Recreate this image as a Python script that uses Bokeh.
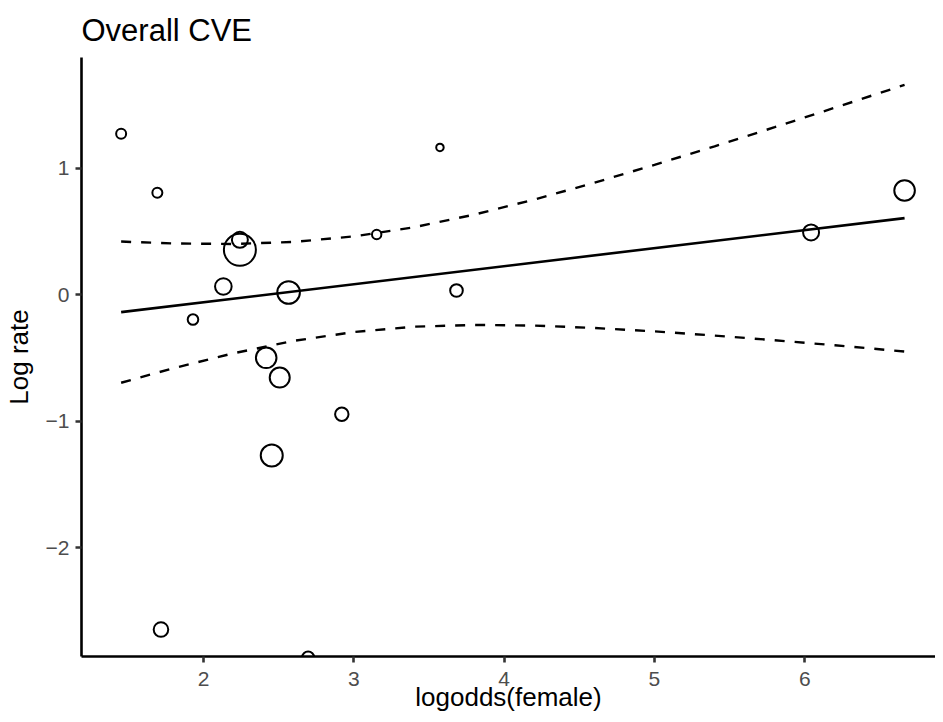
from bokeh.plotting import figure
from bokeh.models import ColumnDataSource, FixedTicker, Range1d
from bokeh.embed import file_html
from bokeh.resources import INLINE
import numpy as np

# ---- data ----
logodds_female = [1.452, 1.693, 1.930, 2.132, 2.242, 2.242, 2.566, 2.417, 2.507,
                  2.454, 2.920, 1.717, 2.696, 3.152, 3.573, 3.683, 6.042, 6.664]
log_rate = [1.272, 0.806, -0.196, 0.065, 0.434, 0.355, 0.017, -0.499, -0.655,
            -1.271, -0.945, -2.647, -2.868, 0.476, 1.164, 0.033, 0.492, 0.824]
weight = [25, 25, 28, 69, 64, 256, 128, 106, 100,
          121, 45, 53, 36, 22, 14, 40, 64, 106]

fit_x = [1.452, 6.664]
fit_y = [-0.138, 0.605]

ci_x = [1.452, 1.8, 2.2, 2.6, 3.0, 3.4, 3.8, 4.2, 4.6, 5.0, 5.4, 5.8, 6.2, 6.664]
ci_upper = [0.420, 0.405, 0.401, 0.417, 0.461, 0.533, 0.633, 0.752, 0.885,
            1.026, 1.173, 1.324, 1.478, 1.659]
ci_lower = [-0.696, -0.581, -0.463, -0.365, -0.295, -0.253, -0.239, -0.244,
            -0.263, -0.290, -0.323, -0.360, -0.400, -0.449]

x_ticks = [2, 3, 4, 5, 6]
y_ticks = [-2, -1, 0, 1]
y_tick_labels = {-2: "\u22122", -1: "\u22121", 0: "0", 1: "1"}

FONT = "Liberation Sans"

p = figure(width=935, height=714, output_backend="svg", toolbar_location=None,
           x_range=Range1d(1.1883, 6.8697), y_range=Range1d(-2.860, 1.875),
           title="Overall CVE", x_axis_label="logodds(female)", y_axis_label="Log rate")

p.min_border_left = 0
p.min_border_right = 0
p.min_border_top = 0
p.min_border_bottom = 0
p.outline_line_color = None
p.background_fill_color = "white"
p.border_fill_color = "white"
p.xgrid.visible = False
p.ygrid.visible = False

p.title.text_font = FONT
p.title.text_font_size = "31px"
p.title.text_font_style = "normal"
p.title.text_color = "black"
p.title.align = "left"
p.title.standoff = 20

for ax in (p.xaxis[0], p.yaxis[0]):
    ax.axis_line_color = "black"
    ax.axis_line_width = 2.6
    ax.major_tick_line_color = "#333333"
    ax.major_tick_line_width = 2.6
    ax.major_tick_in = 0
    ax.major_tick_out = 6
    ax.minor_tick_line_color = None
    ax.major_label_text_font = FONT
    ax.major_label_text_font_size = "21px"
    ax.major_label_text_color = "#4D4D4D"
    ax.axis_label_text_font = FONT
    ax.axis_label_text_font_size = "26px"
    ax.axis_label_text_font_style = "normal"
    ax.axis_label_text_color = "black"

p.xaxis.ticker = FixedTicker(ticks=x_ticks)
p.yaxis.ticker = FixedTicker(ticks=y_ticks)
p.yaxis.major_label_overrides = y_tick_labels
p.xaxis.major_label_standoff = 9
p.xaxis.axis_label_standoff = -7
p.yaxis.major_label_standoff = 6
p.yaxis.axis_label_standoff = 9

# confidence band (dashed) and fitted line
p.line(ci_x, ci_upper, line_color="black", line_width=2.4, line_dash="10 10")
p.line(ci_x, ci_lower, line_color="black", line_width=2.4, line_dash="10 10")
p.line(fit_x, fit_y, line_color="black", line_width=2.6)

diam = [2.0 * np.sqrt(w) for w in weight]
src = ColumnDataSource(dict(x=logodds_female, y=log_rate, s=diam))
p.scatter("x", "y", size="s", source=src, marker="circle",
          fill_color=None, line_color="black", line_width=2.0)

open("out.html", "w").write(file_html(p, INLINE))
